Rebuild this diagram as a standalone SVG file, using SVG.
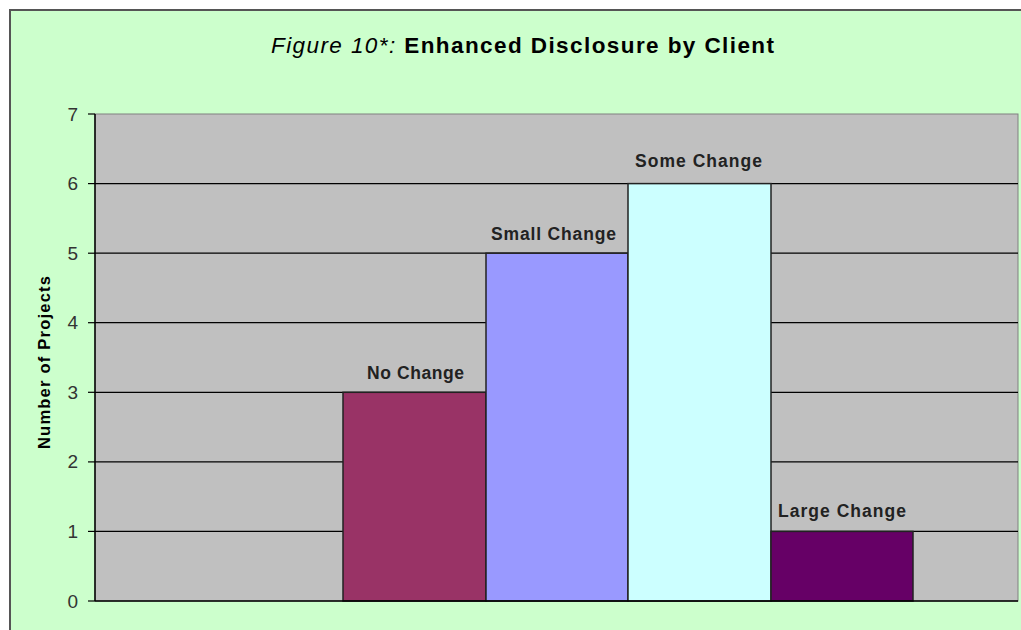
<svg xmlns="http://www.w3.org/2000/svg" width="1021" height="630" viewBox="0 0 1021 630">
<style>
.tick{font-family:"Liberation Sans",Arial,sans-serif;font-size:19px;fill:#333;text-anchor:end}
.lbl{font-family:"Liberation Sans",Arial,sans-serif;font-size:17.5px;font-weight:bold;fill:#222}
.grid{stroke:#000;stroke-width:1.2}
.bar{stroke:#222;stroke-width:1.5}
</style>
<rect x="0" y="0" width="1021" height="630" fill="#fff"/>
<rect x="10" y="10" width="1030" height="640" fill="#ccffcc" stroke="#555" stroke-width="2"/>
<text x="271" y="53" textLength="503" lengthAdjust="spacing" font-family="Liberation Sans,Arial,sans-serif" font-size="22.5" fill="#000"><tspan font-style="italic">Figure 10*:</tspan><tspan font-weight="bold"> Enhanced Disclosure by Client</tspan></text>
<g id="plot">
<rect x="95" y="114" width="923" height="487" fill="#c0c0c0" stroke="#808080" stroke-width="1"/>
<g id="gridlines">
<line class="grid" x1="95" y1="183.6" x2="1018" y2="183.6"/>
<line class="grid" x1="95" y1="253.2" x2="1018" y2="253.2"/>
<line class="grid" x1="95" y1="322.7" x2="1018" y2="322.7"/>
<line class="grid" x1="95" y1="392.3" x2="1018" y2="392.3"/>
<line class="grid" x1="95" y1="461.9" x2="1018" y2="461.9"/>
<line class="grid" x1="95" y1="531.4" x2="1018" y2="531.4"/>
</g>
<line x1="95" y1="114" x2="95" y2="601" stroke="#000" stroke-width="1.5"/>
<g id="ticks" stroke="#000" stroke-width="1.2">
<line x1="88" y1="114" x2="95" y2="114"/>
<line x1="88" y1="183.6" x2="95" y2="183.6"/>
<line x1="88" y1="253.2" x2="95" y2="253.2"/>
<line x1="88" y1="322.7" x2="95" y2="322.7"/>
<line x1="88" y1="392.3" x2="95" y2="392.3"/>
<line x1="88" y1="461.9" x2="95" y2="461.9"/>
<line x1="88" y1="531.4" x2="95" y2="531.4"/>
<line x1="88" y1="601" x2="95" y2="601"/>
</g>
<g id="ticklabels">
<text class="tick" x="78" y="121">7</text>
<text class="tick" x="78" y="190">6</text>
<text class="tick" x="78" y="260">5</text>
<text class="tick" x="78" y="329">4</text>
<text class="tick" x="78" y="399">3</text>
<text class="tick" x="78" y="468">2</text>
<text class="tick" x="78" y="538">1</text>
<text class="tick" x="78" y="608">0</text>
</g>
<text transform="translate(50,449) rotate(-90)" textLength="173" lengthAdjust="spacing" font-family="Liberation Sans,Arial,sans-serif" font-size="16.5" font-weight="bold" fill="#000">Number of Projects</text>
</g>
<g id="bar-no-change">
<rect class="bar" x="343" y="392.3" width="143" height="208.7" fill="#993366"/>
<text class="lbl" x="367" y="379" textLength="97" lengthAdjust="spacing">No Change</text>
</g>
<g id="bar-small-change">
<rect class="bar" x="486" y="253.2" width="142" height="347.8" fill="#9999ff"/>
<text class="lbl" x="491" y="240" textLength="125" lengthAdjust="spacing">Small Change</text>
</g>
<g id="bar-some-change">
<rect class="bar" x="628" y="183.6" width="143" height="417.4" fill="#ccffff"/>
<text class="lbl" x="635" y="167" textLength="127" lengthAdjust="spacing">Some Change</text>
</g>
<g id="bar-large-change">
<rect class="bar" x="771" y="531.4" width="142" height="69.6" fill="#660066"/>
<text class="lbl" x="778" y="517" textLength="128" lengthAdjust="spacing">Large Change</text>
</g>
<line x1="95" y1="601" x2="1018" y2="601" stroke="#000" stroke-width="1.5"/>
</svg>
